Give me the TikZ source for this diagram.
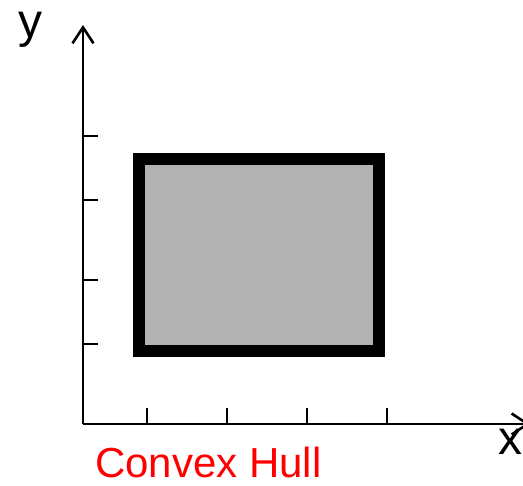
\documentclass[tikz,border=0pt]{standalone}
\usepackage{fontspec}
\setmainfont{Liberation Sans}
\usetikzlibrary{arrows.meta}

\definecolor{hullgray}{gray}{0.70}

\begin{document}
\begin{tikzpicture}[x=1pt, y=-1pt,
    axis/.style={line width=2.6pt, -{Straight Barb[length=16pt, width=21pt]}},
    tick/.style={line width=2.6pt},
    axislabel/.style={inner sep=0pt, font=\fontsize{48}{56}\selectfont},
    hulllabel/.style={inner sep=0pt, text=red, font=\fontsize{42}{50}\selectfont}]
  \useasboundingbox (0, 0) rectangle (523, 486);

  \coordinate (o) at (83, 424);
  \coordinate (ytop) at (83, 25);
  \coordinate (xend) at (530, 424);

  % hull
  \draw[line width=12pt, fill=hullgray] (139, 159) rectangle (379, 351);

  % axes
  \draw[axis] (o) -- (ytop);
  \draw[axis] (o) -- (xend);
  \foreach \ty in {136, 200, 280, 344}
    \draw[tick] (83, \ty) -- ++(15, 0);
  \foreach \tx in {147, 227, 307, 387}
    \draw[tick] (\tx, 424) -- ++(0, -16);

  \node[axislabel, anchor=base] (ylab) at (30, 38) {y};
  \node[axislabel, anchor=base west] (xlab) at (498, 455) {x};
  \node[hulllabel, anchor=base west] (hull) at (95, 478) {Convex Hull};
\end{tikzpicture}
\end{document}
